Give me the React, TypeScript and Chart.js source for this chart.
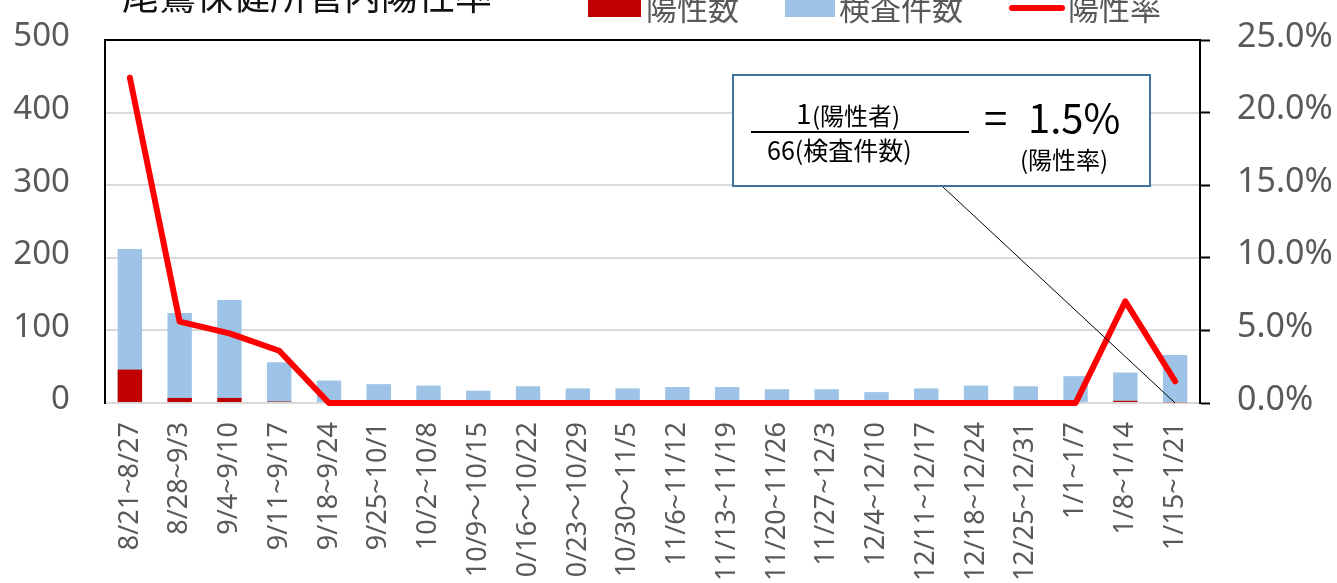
import React, { useEffect, useRef } from "react";
import { Chart, registerables } from "chart.js";

Chart.register(...registerables);

const chartTitle = "尾鷲保健所管内陽性率";
const categories = [
  "8/21~8/27", "8/28~9/3", "9/4~9/10", "9/11~9/17", "9/18~9/24", "9/25~10/1",
  "10/2~10/8", "10/9～10/15", "10/16～10/22", "10/23～10/29", "10/30～11/5",
  "11/6~11/12", "11/13~11/19", "11/20~11/26", "11/27~12/3", "12/4~12/10",
  "12/11~12/17", "12/18~12/24", "12/25~12/31", "1/1~1/7", "1/8~1/14", "1/15~1/21",
];
const positives = [46, 7, 7, 2, 0, 0, 0, 0, 0, 0, 0, 0, 0, 0, 0, 0, 0, 0, 0, 0, 3, 1];
const tests = [212, 124, 142, 56, 31, 26, 24, 17, 23, 20, 20, 22, 22, 19, 19, 15, 20, 24, 23, 37, 42, 66];
const rate = [22.4, 5.6, 4.8, 3.6, 0, 0, 0, 0, 0, 0, 0, 0, 0, 0, 0, 0, 0, 0, 0, 0, 7.0, 1.5];
const leftAxis = { min: 0, max: 500, step: 100 };
const rightAxis = { min: 0, max: 25, step: 5 };
const seriesNames = ["陽性数", "検査件数", "陽性率"];
const annotation = {
  numerator: "1",
  numeratorNote: "(陽性者)",
  denominator: "66(検査件数)",
  equals: "=",
  result: "1.5%",
  resultNote: "(陽性率)",
  targetIndex: 21,
};

const CJK = '"Noto Sans CJK JP", "Noto Sans", sans-serif';
const LATIN = '"Noto Sans", "Noto Sans CJK JP", sans-serif';
const GRAY = "#595959";
const RED_BAR = "#c00000";
const BLUE_BAR = "#9dc3e6";
const RED_LINE = "#ff0000";

const overlayPlugin = {
  id: "overlay",
  afterDraw(chart: any) {
    const ctx = chart.ctx as CanvasRenderingContext2D;
    ctx.save();
    ctx.fillStyle = "#111111";
    ctx.font = `37px ${CJK}`;
    ctx.textAlign = "left";
    ctx.textBaseline = "alphabetic";
    ctx.fillText(chartTitle, 122, 10);

    ctx.font = `31px ${CJK}`;
    ctx.fillStyle = RED_BAR;
    ctx.fillRect(588, -5, 53, 22);
    ctx.fillStyle = GRAY;
    ctx.fillText(seriesNames[0], 646, 20);
    ctx.fillStyle = BLUE_BAR;
    ctx.fillRect(785, -5, 50, 22);
    ctx.fillStyle = GRAY;
    ctx.fillText(seriesNames[1], 839, 20);
    ctx.strokeStyle = RED_LINE;
    ctx.lineWidth = 6;
    ctx.lineCap = "round";
    ctx.beginPath();
    ctx.moveTo(1012, 8);
    ctx.lineTo(1062, 8);
    ctx.stroke();
    ctx.fillStyle = GRAY;
    ctx.fillText(seriesNames[2], 1068, 20);

    const xs = chart.scales.x;
    const ys = chart.scales.y;
    const tx = xs.getPixelForValue(annotation.targetIndex);
    const ty = ys.getPixelForValue(0);
    ctx.strokeStyle = "#000";
    ctx.lineWidth = 1;
    ctx.lineCap = "butt";
    ctx.beginPath();
    ctx.moveTo(943, 187);
    ctx.lineTo(tx, ty);
    ctx.stroke();

    ctx.fillStyle = "#ffffff";
    ctx.fillRect(733, 75, 417, 111);
    ctx.strokeStyle = "#41719c";
    ctx.lineWidth = 2;
    ctx.strokeRect(733, 75, 417, 111);

    ctx.fillStyle = "#000";
    ctx.font = `28px ${CJK}`;
    ctx.fillText(annotation.numerator, 796, 124);
    ctx.font = `24px ${CJK}`;
    ctx.fillText(annotation.numeratorNote, 812, 125);
    ctx.fillRect(751, 131, 218, 2);
    ctx.font = `25px ${CJK}`;
    ctx.fillText(annotation.denominator, 767, 160);
    ctx.font = `42px ${CJK}`;
    ctx.fillText(annotation.equals, 984, 134);
    ctx.font = `40px ${CJK}`;
    ctx.fillText(annotation.result, 1028, 133);
    ctx.font = `24px ${CJK}`;
    ctx.fillText(annotation.resultNote, 1020, 169);
    ctx.restore();
  },
};

const noPadY = (w: number) => (s: any) => {
  s.width = w;
  s.paddingTop = 0;
  s.paddingBottom = 0;
};

export default function App() {
  const canvasRef = useRef<HTMLCanvasElement | null>(null);

  useEffect(() => {
    if (!canvasRef.current) return;
    const chart = new Chart(canvasRef.current, {
      type: "bar",
      data: {
        labels: categories,
        datasets: [
          {
            type: "bar",
            label: seriesNames[0],
            data: positives,
            backgroundColor: RED_BAR,
            borderWidth: 0,
            grouped: false,
            order: 1,
            yAxisID: "y",
            barPercentage: 0.49,
            categoryPercentage: 1,
          } as any,
          {
            type: "bar",
            label: seriesNames[1],
            data: tests,
            backgroundColor: BLUE_BAR,
            borderWidth: 0,
            grouped: false,
            order: 2,
            yAxisID: "y",
            barPercentage: 0.49,
            categoryPercentage: 1,
          } as any,
          {
            type: "line",
            label: seriesNames[2],
            data: rate,
            borderColor: RED_LINE,
            backgroundColor: RED_LINE,
            borderWidth: 6,
            pointRadius: 0,
            tension: 0,
            borderCapStyle: "round",
            borderJoinStyle: "round",
            order: 0,
            yAxisID: "y1",
            clip: false,
          } as any,
        ],
      },
      options: {
        responsive: false,
        animation: false,
        layout: { padding: { top: 40, left: 0, right: 0, bottom: 0 } },
        plugins: {
          legend: { display: false },
          title: { display: false },
          tooltip: { enabled: false },
        },
        scales: {
          x: {
            type: "category",
            grid: { display: false, drawTicks: false },
            border: { color: "#d9d9d9", width: 2 },
            ticks: {
              autoSkip: false,
              minRotation: 90,
              maxRotation: 90,
              padding: 19,
              color: GRAY,
              font: { family: LATIN, size: 27 },
            },
            afterFit: (s: any) => {
              s.height = 180;
              s.paddingLeft = 0;
              s.paddingRight = 0;
            },
          },
          y: {
            position: "left",
            min: leftAxis.min,
            max: leftAxis.max,
            grid: {
              color: (c: any) => (c.tick && c.tick.value === leftAxis.max ? "#000" : "#d9d9d9"),
              lineWidth: 2,
              drawTicks: false,
            },
            border: { color: "#000", width: 2 },
            ticks: {
              stepSize: leftAxis.step,
              padding: 35,
              labelOffset: -3,
              color: GRAY,
              font: { family: LATIN, size: 33 },
            },
            afterFit: noPadY(105),
          },
          y1: {
            position: "right",
            min: rightAxis.min,
            max: rightAxis.max,
            grid: {
              drawOnChartArea: false,
              drawTicks: true,
              tickLength: 10,
              tickColor: "#000",
              tickWidth: 2,
            },
            border: { color: "#000", width: 2 },
            ticks: {
              stepSize: rightAxis.step,
              padding: 27,
              labelOffset: -3,
              color: GRAY,
              font: { family: LATIN, size: 34 },
              callback: (v: any) => Number(v).toFixed(1) + "%",
            },
            afterFit: noPadY(137),
          },
        },
      } as any,
      plugins: [overlayPlugin],
    });
    return () => chart.destroy();
  }, []);

  return (
    <div style={{ position: "absolute", left: 0, top: 0, width: 1337, height: 583, background: "#fff" }}>
      <canvas ref={canvasRef} width={1337} height={583} style={{ display: "block" }} />
    </div>
  );
}
